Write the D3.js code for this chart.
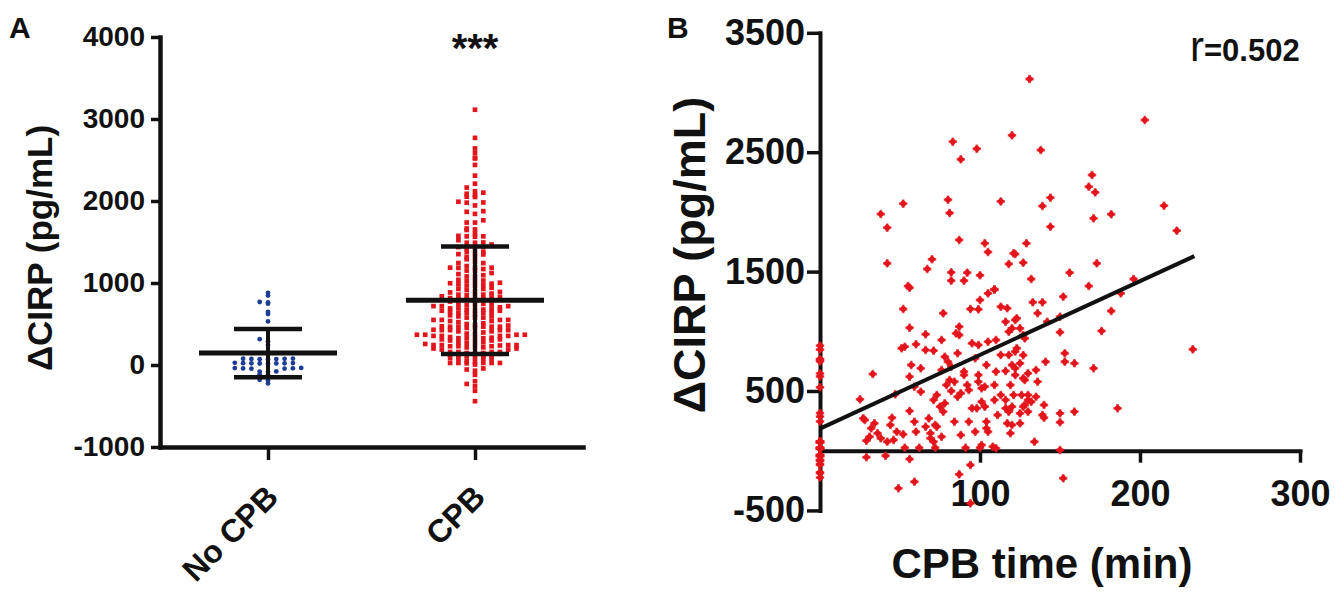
<!DOCTYPE html>
<html><head><meta charset="utf-8">
<script src="https://cdn.jsdelivr.net/npm/d3@7"></script>
<style>
body{margin:0;background:#fff}
svg{display:block}
text{font-family:"Liberation Sans",Arial,sans-serif;font-weight:bold;fill:#111}
</style>
</head><body><svg id="c" width="1335" height="592"></svg>
<script>
// ---------- DATA ----------
const groups = ["No CPB", "CPB"];
const noCpbValues = [880, 847, 768, 762, 748, 647, 622, 531, 315, 286, 245,
  74, 70, 78, 72, 76, 68, 75, 24, 18, 22, 20, 26, 15, 21, 19,
  -38, -44, -40, -42, -36, -45, -80, -85, -78, -112, -118, -180, -188, -225];
// [CPB time (min), ΔCIRP (pg/mL)]
const cpbPoints = [
  [83,2588],[98,2529],[88,2440],[120,2641],[52,2069],[38,1982],[42,1868],[80,2102],[81,1991],[113,2088],
  [87,1765],[103,1737],[105,1664],[121,1653],[42,1569],[70,1603],[67,1522],[82,1494],[92,1491],[100,1469],
  [118,1564],[82,1424],[90,1424],[55,1379],[109,1352],
  [131,3113],[203,2770],[138,2518],[170,2309],[168,2211],[172,2164],[144,2119],[139,2049],[215,2052],[171,1946],
  [182,1980],[144,1876],[223,1843],[129,1737],[122,1647],[127,1575],[173,1569],[132,1438],[156,1491],[168,1379],[196,1438],
  [56,1365],[52,1187],[56,1030],[53,871],[60,891],[66,975],[71,838],[77,1151],[76,927],[87,1039],
  [94,1187],[100,1262],[105,1318],[109,1348],[87,969],[99,885],[117,1193],[118,997],[80,745],[82,704],
  [86,816],[97,774],[104,718],[110,662],[113,802],[120,718],[109,550],[33,642],[25,430],[47,472],
  [56,620],[63,690],[63,494],[56,333],[71,425],[75,369],[78,397],[82,500],[88,481],[92,550],
  [95,355],[101,410],[104,243],[111,299],[116,355],[28,257],[32,188],[36,146],[29,84],[45,276],
  [46,90],[52,137],[53,25],[59,243],[60,159],[62,25],[66,201],[69,146],[71,75],[76,117],
  [72,25],[84,243],[91,25],[93,243],[100,25],[110,20],[105,159],[29,-55],[41,-42],[56,-70],
  [59,-260],[49,-315],[87,-198],[94,-120],[94,-441],
  [90,634],[99,634],[101,523],[113,467],[118,327],[120,215],[97,159],[88,131],
  [152,1290],[188,1318],[133,1243],[139,1243],[136,1151],[142,1080],[150,1122],[182,1170],[176,1003],[150,992],
  [123,1109],[125,1025],[128,941],[120,1025],[153,816],[159,732],[153,745],[141,745],[171,690],[233,849],
  [123,858],[125,732],[118,802],[135,676],[130,648],[136,578],[119,550],[130,467],[135,452],[132,410],
  [140,383],[118,341],[125,313],[150,313],[159,327],[186,355],[140,276],[150,238],[125,229],[119,146],
  [134,75],[150,6],[152,-231],
  [99,1184],[113,1206],[85,983],[95,900],[105,913],[110,927],[116,1080],[122,1095],[127,969],[122,830],
  [127,800],[78,787],[76,676],[81,592],[90,662],[116,668],[99,578],[103,536],[122,634],[128,592],
  [93,508],[86,452],[98,355],[103,369],[109,425],[116,425],[120,369],[126,467],[130,425],[127,369],
  [104,188],[117,229],[73,201],[101,48],[108,34],
  [27,271],[34,229],[38,104],[31,117],[42,75],[68,271],[72,215],[69,104],[77,327],[73,467],
  [79,550],[84,578],[59,536],[57,718],[66,843],[51,858],[44,215],[48,159],
  [122,690],[127,606],[121,467],[128,383],[139,299],[130,327]
];
const groupMeans = [145, 790];
const groupSDs = [295, 655];
const yTicksA = [-1000, 0, 1000, 2000, 3000, 4000];
const yTicksB = [-500, 500, 1500, 2500, 3500];
const xTicksB = [100, 200, 300];
const fitLine = [[0, 185], [234, 1630]];
const rValue = "0.502";
const significance = "***";

// ---------- DRAW ----------
const svg = d3.select("#c");
const red = "#e3151c", blue = "#1d3d94";

// ===== Panel A =====
const yA = d3.scaleLinear().domain([-1000, 4000]).range([447, 37]);
const xA = d3.scalePoint().domain(groups).range([160, 583]).padding(0.5217);

const axAy = svg.append("g").attr("transform", "translate(160,0)")
  .call(d3.axisLeft(yA).tickValues(yTicksA).tickFormat(d => String(d)).tickSize(9).tickSizeOuter(0).tickPadding(6));
const axAx = svg.append("g").attr("transform", "translate(0,447)")
  .call(d3.axisBottom(xA).tickSize(13).tickSizeOuter(0));
axAx.selectAll(".tick text").remove();
[axAy, axAx].forEach(g => {
  g.select(".domain").attr("stroke", "#111").attr("stroke-width", 4.5).attr("stroke-linecap", "square");
  g.selectAll(".tick line").attr("stroke", "#111").attr("stroke-width", 3.5);
});
axAy.selectAll(".tick text").attr("font-size", 28).attr("fill", "#111").attr("font-family", null);

groups.forEach(g => {
  svg.append("text").attr("transform", `translate(${xA(g) + 12},499) rotate(-45)`)
    .attr("text-anchor", "end").attr("font-size", 32).text(g);
});

// beeswarm
function swarm(values, binW, colW) {
  const bins = d3.group(values.map((v, i) => ({v, i})), d => Math.round(d.v / binW));
  const out = [];
  for (const [, arr] of bins) {
    arr.sort((a, b) => a.v - b.v);
    arr.forEach((d, k) => {
      const off = k === 0 ? 0 : (k % 2 === 1 ? -Math.ceil(k / 2) : Math.ceil(k / 2));
      out.push({v: d.v, dx: off * colW});
    });
  }
  return out;
}
const swNo = swarm(noCpbValues, 60, 8.3);
svg.append("g").selectAll("circle").data(swNo).join("circle")
  .attr("cx", d => xA("No CPB") + d.dx).attr("cy", d => yA(d.v)).attr("r", 2.4).attr("fill", blue);
const swC = swarm(cpbPoints.map(p => p[1]), 58, 8.3);
svg.append("g").selectAll("path").data(swC).join("path")
  .attr("d", d3.symbol(d3.symbolSquare, 22))
  .attr("transform", d => `translate(${xA("CPB") + d.dx},${yA(d.v)})`).attr("fill", red);

// mean ± SD
groups.forEach((g, i) => {
  const cx = xA(g), m = groupMeans[i], s = groupSDs[i];
  const ln = (x1, y1, x2, y2, w) => svg.append("line").attr("x1", x1).attr("y1", y1).attr("x2", x2).attr("y2", y2)
    .attr("stroke", "#111").attr("stroke-width", w);
  ln(cx, yA(m - s), cx, yA(m + s), 4);
  ln(cx - 34, yA(m + s), cx + 34, yA(m + s), 4.5);
  ln(cx - 34, yA(m - s), cx + 34, yA(m - s), 4.5);
  ln(cx - 69, yA(m), cx + 69, yA(m), 5);
});
svg.append("text").attr("x", xA("CPB")).attr("y", 62).attr("text-anchor", "middle").attr("font-size", 40).text(significance);

svg.append("text").attr("transform", "translate(52,248) rotate(-90)").attr("text-anchor", "middle")
  .attr("font-size", 35).text("ΔCIRP (pg/mL)");
svg.append("text").attr("x", 9).attr("y", 38).attr("font-size", 30).text("A");

// ===== Panel B =====
const xB = d3.scaleLinear().domain([0, 300]).range([820, 1300]);
const yB = d3.scaleLinear().domain([-500, 3500]).range([510.4, 32.8]);

const axBy = svg.append("g").attr("transform", "translate(820,0)")
  .call(d3.axisLeft(yB).tickValues(yTicksB).tickFormat(d => String(d)).tickSize(13).tickSizeOuter(0).tickPadding(2));
const axBx = svg.append("g").attr("transform", `translate(0,${yB(0)})`)
  .call(d3.axisBottom(xB).tickValues(xTicksB).tickFormat(d => String(d)).tickSize(12).tickSizeOuter(0).tickPadding(18));
[axBy, axBx].forEach(g => {
  g.select(".domain").attr("stroke", "#111").attr("stroke-width", 4).attr("stroke-linecap", "square");
  g.selectAll(".tick line").attr("stroke", "#111").attr("stroke-width", 3.5);
  g.selectAll(".tick text").attr("font-size", 36).attr("fill", "#111").attr("font-family", null);
});

// points
const allB = noCpbValues.map(v => [0, v]).concat(cpbPoints);
const gPts = svg.append("g");
gPts.selectAll("path.d").data(allB).join("path").attr("class", "d")
  .attr("d", d3.symbol(d3.symbolDiamond2, 42))
  .attr("transform", d => `translate(${xB(d[0])},${yB(d[1])})`).attr("fill", red);
gPts.selectAll("path.c").data(allB).join("path").attr("class", "c")
  .attr("d", d3.symbol(d3.symbolCross, 40))
  .attr("transform", d => `translate(${xB(d[0])},${yB(d[1])})`).attr("fill", red).attr("opacity", 0.6);

svg.append("path").datum(fitLine)
  .attr("d", d3.line().x(d => xB(d[0])).y(d => yB(d[1])))
  .attr("stroke", "#111").attr("stroke-width", 4).attr("fill", "none");

svg.append("text").attr("transform", "translate(705,255) rotate(-90)").attr("text-anchor", "middle")
  .attr("font-size", 45).text("ΔCIRP (pg/mL)");
svg.append("text").attr("x", 1042).attr("y", 578).attr("text-anchor", "middle")
  .attr("font-size", 42).text("CPB time (min)");
const rt = svg.append("text").attr("x", 1190).attr("y", 61);
rt.append("tspan").attr("font-size", 42).attr("font-weight", "normal").text("r");
rt.append("tspan").attr("font-size", 31).text("=" + rValue);
svg.append("text").attr("x", 667).attr("y", 38).attr("font-size", 30).text("B");
</script>
</body></html>
